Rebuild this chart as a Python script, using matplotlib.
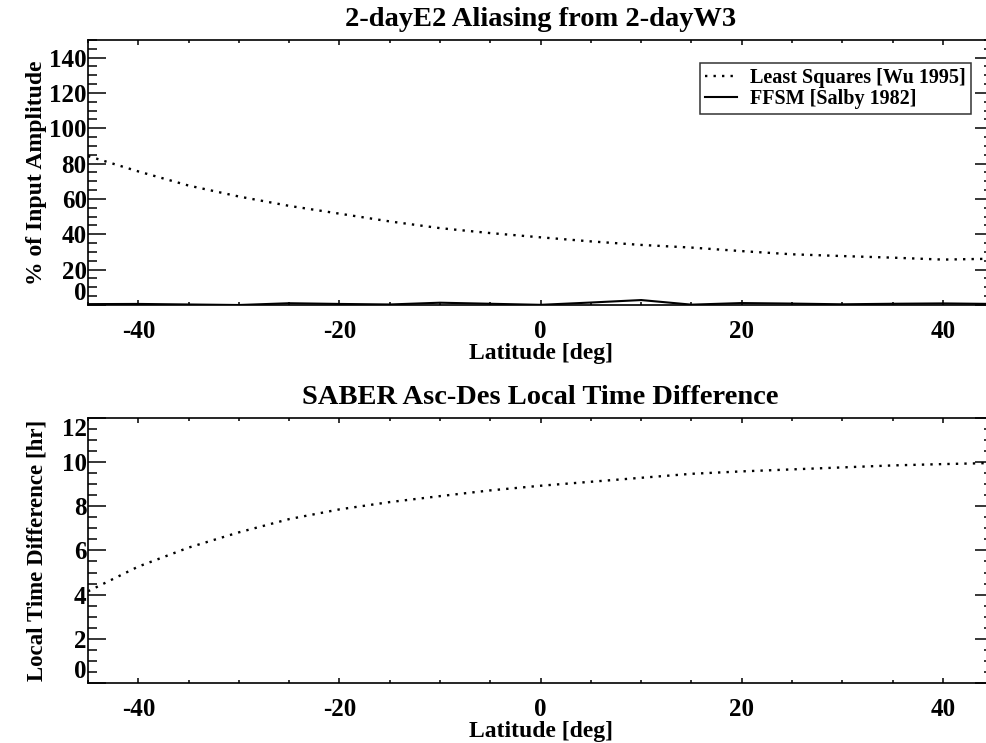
import matplotlib
matplotlib.use("Agg")
import matplotlib.pyplot as plt
from matplotlib.ticker import MultipleLocator

plt.rcParams['font.family'] = ['Liberation Serif', 'DejaVu Serif']
plt.rcParams['font.weight'] = 'bold'
plt.rcParams['axes.unicode_minus'] = False

# latitude grid [deg]
lat = [-45, -40, -35, -30, -25, -20, -15, -10, -5, 0, 5, 10, 15, 20, 25, 30, 35, 40, 45]

# % of input amplitude aliased from 2-dayW3 into 2-dayE2
least_squares = [84.3, 75.6, 67.6, 61.4, 56.1, 51.7, 47.3, 43.5, 40.7, 38.3,
                 36.0, 34.0, 32.5, 30.5, 28.7, 27.7, 26.8, 25.7, 26.2]
ffsm = [0.5, 0.6, 0.3, 0.0, 1.0, 0.6, 0.3, 1.3, 0.7, 0.1,
        1.4, 2.8, 0.2, 1.1, 0.8, 0.4, 0.7, 0.9, 0.6]

# SABER ascending - descending local time difference [hr]
lt_diff = [4.15, 5.27, 6.13, 6.82, 7.42, 7.86, 8.19, 8.46, 8.72, 8.93,
           9.11, 9.29, 9.47, 9.58, 9.67, 9.76, 9.85, 9.91, 9.96]

dotted = (0, (1, 2.6))
fig = plt.figure(figsize=(9.87, 7.43), dpi=100)
ax1 = fig.add_axes([0.0892, 0.5895, 0.917, 0.3567])
ax2 = fig.add_axes([0.0892, 0.0808, 0.917, 0.3567])


def idl_axes(ax, ymax, ymajor, yminor):
    ax.set_xlim(-45, 45)
    ax.set_ylim(0, ymax)
    ax.xaxis.set_major_locator(MultipleLocator(20))
    ax.xaxis.set_minor_locator(MultipleLocator(5))
    ax.yaxis.set_major_locator(MultipleLocator(ymajor))
    ax.yaxis.set_minor_locator(MultipleLocator(yminor))
    ax.tick_params(which='both', direction='in', top=True, right=True,
                   labelsize=18, width=1.1, color='black')
    ax.tick_params(axis='x', which='major', length=3.8, pad=11)
    ax.tick_params(axis='x', which='minor', length=1.9)
    ax.tick_params(axis='y', which='major', length=13, pad=1)
    ax.tick_params(axis='y', which='minor', length=6.5)
    for s in ax.spines.values():
        s.set_linewidth(1.2)
    ax.set_xlabel('Latitude [deg]', fontsize=17, fontweight='bold', labelpad=0)
    ax.yaxis.set_label_coords(-0.045, 0.5)
    fig.canvas.draw()
    for t in ax.get_yticklabels():
        if t.get_text() == '0':
            t.set_verticalalignment('bottom')
        if t.get_position()[1] == ymax:
            t.set_verticalalignment('top')


ax1.plot(lat, least_squares, color='black', lw=1.7, linestyle=dotted,
         label='Least Squares [Wu 1995]')
ax1.plot(lat, ffsm, color='black', lw=1.5, label='FFSM [Salby 1982]')
idl_axes(ax1, 150, 20, 5)
ax1.set_ylabel('% of Input Amplitude', fontsize=17, fontweight='bold')
ax1.set_title('2-dayE2 Aliasing from 2-dayW3', fontsize=20.5, fontweight='bold', pad=10)
leg = ax1.legend(loc='upper right', bbox_to_anchor=(0.9757, 0.913), borderaxespad=0,
                 fontsize=14.5, handlelength=1.6, handletextpad=0.65, fancybox=False,
                 frameon=True, borderpad=0.25, labelspacing=0.05)
leg.get_frame().set_edgecolor('black')
leg.get_frame().set_linewidth(1.1)

ax2.plot(lat, lt_diff, color='black', lw=1.7, linestyle=dotted)
idl_axes(ax2, 12, 2, 0.5)
ax2.set_ylabel('Local Time Difference [hr]', fontsize=16.5, fontweight='bold')
ax2.set_title('SABER Asc-Des Local Time Difference', fontsize=20.5, fontweight='bold', pad=10)

fig.savefig('out.png', dpi=100)
